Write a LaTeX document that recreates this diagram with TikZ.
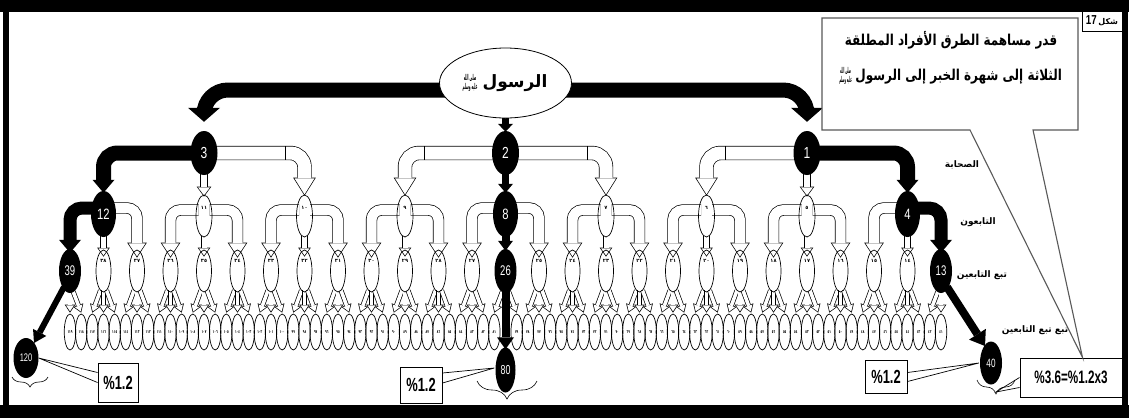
\documentclass[tikz,border=0pt]{standalone}
\usepackage{fontspec}
\usepackage{graphicx}
\setmainfont{Liberation Sans}
\newfontfamily\arabicfont[Script=Arabic]{DejaVu Sans}
\TeXXeTstate=1
\usetikzlibrary{shapes.geometric,arrows.meta,decorations.pathreplacing,calc,backgrounds}

% Arabic-Indic digits for the white nodes
\def\ardigits#1{{\arabicfont\ardig#1\relax}}
\def\ardig#1{\ifx#1\relax\else\ardigit{#1}\expandafter\ardig\fi}
\def\ardigit#1{\ifcase#1 ٠\or ١\or ٢\or ٣\or ٤\or ٥\or ٦\or ٧\or ٨\or ٩\fi}
\newcommand\arnum[1]{\edef\arnumtmp{#1}\expandafter\ardigits\expandafter{\arnumtmp}}
% condensed numerals
\newcommand\cnum[2][0.75]{\scalebox{#1}[1]{#2}}
% the salawat ligature, built as a compact stacked mark (never used inside \beginR ... \endR)
\newcommand\saw[2]{\raisebox{-0.15em}{\resizebox{#1}{#2}{\vbox{\baselineskip=1.1em\lineskiplimit=0pt\lineskip=1pt
  \hbox to 4.6em{\hss\beginR صلى الله\endR\hss}\hbox to 4.6em{\hss\beginR عليه وسلم\endR\hss}}}}}

% outlined (white) block arrow: path, shaft, head width, head length, corner radius
\newcommand\warrow[5]{%
  \pgfmathsetmacro\wa{#2+1.4}%
  \pgfmathsetmacro\wb{#3+2.6}%
  \pgfmathsetmacro\wc{#4+2.0}%
  \draw[line width=\wa pt, rounded corners=#5pt, -{Triangle[width=\wb pt,length=\wc pt,line width=0pt]}] #1;%
  \draw[white, line width=#2pt, rounded corners=#5pt, shorten >=1.3pt, -{Triangle[width=#3pt,length=#4pt,line width=0pt]}] #1;%
}
% solid black block arrow
\newcommand\barrow[5]{%
  \draw[line width=#2pt, rounded corners=#5pt, -{Triangle[width=#3pt,length=#4pt,line width=0pt]}] #1;%
}

\tikzset{
  bnode/.style={ellipse, fill=black, text=white, inner sep=0pt},
  wnode/.style={ellipse, draw, line width=0.7pt, inner sep=0pt},
  lblw/.style={font=\arabicfont\bfseries\fontsize{5}{5}\selectfont, inner sep=0pt},
  pbox/.style={draw, line width=1pt, fill=white, inner sep=0pt, font=\bfseries\fontsize{19}{19}\selectfont},
  side/.style={font=\arabicfont\bfseries\fontsize{9}{10}\selectfont, inner sep=0pt},
  tail/.style={line width=0.7pt},
  seam/.style={line width=0.7pt},
}

\begin{document}
\begin{tikzpicture}[x=1pt,y=-1pt]
\useasboundingbox (0,0) rectangle (1129,418);

% root
\node[ellipse, draw, line width=0.8pt, fill=white, minimum width=132pt, minimum height=70pt, inner sep=0pt,
      font=\arabicfont\bfseries\fontsize{17}{17}\selectfont] (root) at (505.5,83) {\saw{13pt}{15pt}\ \beginR الرسول\endR};

% level 1
\foreach \i in {0,1,2}{
  \pgfmathsetmacro\xx{204+301.5*\i}
  \pgfmathtruncatemacro\lab{3-\i}
  \node[bnode, minimum width=27pt, minimum height=44pt, font=\fontsize{16}{16}\selectfont] (a\i) at (\xx,153) {\cnum{\lab}};
}

% level 2
\foreach \j in {0,...,8}{
  \pgfmathsetmacro\xx{103.5+100.5*\j}
  \pgfmathtruncatemacro\lab{12-\j}
  \pgfmathtruncatemacro\isb{mod(\j,4)==0}
  \ifnum\isb=1
    \node[bnode, minimum width=25pt, minimum height=46pt, font=\fontsize{15}{15}\selectfont] (b\j) at (\xx,214) {\cnum{\lab}};
  \else
    \node[wnode, minimum width=16pt, minimum height=42pt, label={[lblw,yshift=8pt]center:\arnum{\lab}}] (b\j) at (\xx,216) {};
  \fi
}

% level 3
\foreach \k in {0,...,26}{
  \pgfmathsetmacro\xx{70+33.5*\k}
  \pgfmathtruncatemacro\lab{39-\k}
  \pgfmathtruncatemacro\isb{mod(\k,13)==0}
  \ifnum\isb=1
    \node[bnode, minimum width=22pt, minimum height=44pt, font=\fontsize{14}{14}\selectfont] (c\k) at (\xx,271) {\cnum[0.68]{\lab}};
  \else
    \node[wnode, minimum width=15pt, minimum height=42pt, label={[lblw,yshift=10pt]center:\arnum{\lab}}] (c\k) at (\xx,271) {};
  \fi
}

% level 4
\foreach \m in {1,...,79}{
  \pgfmathtruncatemacro\kk{floor(\m/3)}
  \pgfmathsetmacro\xx{70+33.5*\kk+(\m-3*\kk-1)*11.2}
  \pgfmathtruncatemacro\lab{120-\m}
  \ifnum\m=40 \else
    \node[wnode, minimum width=11.5pt, minimum height=36pt, font=\arabicfont\bfseries\fontsize{4.5}{4.5}\selectfont] (d\m) at (\xx,332) {\cnum[0.6]{\arnum{\lab}}};
  \fi
}
\node[bnode, minimum width=25pt, minimum height=40pt, font=\fontsize{11}{11}\selectfont] (d0) at (26,358) {\cnum[0.68]{120}};
\node[bnode, minimum width=20pt, minimum height=45pt, font=\fontsize{13}{13}\selectfont] (d40) at (505.5,370) {\cnum[0.68]{80}};
\node[bnode, minimum width=22pt, minimum height=43pt, font=\fontsize{12}{12}\selectfont] (d80) at (991,363) {\cnum[0.68]{40}};

\begin{pgfonlayer}{background}
  \fill[white] (0,0) rectangle (1129,418);
  % root to level 1
  \barrow{($(root.center)+(0,7)$) -- ($(a0.north |- root.center)+(0,7)$) -- ($(a0.north)+(0,-9)$)}{15}{32}{14}{24}
  \barrow{($(root.center)+(0,7)$) -- ($(a2.north |- root.center)+(0,7)$) -- ($(a2.north)+(0,-9)$)}{15}{32}{14}{24}
  \barrow{($(root.south)+(0,-3)$) -- ($(a1.north)+(0,1)$)}{7}{15}{8}{0}

  % level 1 to level 2
  \barrow{(a0.center) -- (b0.north |- a0.center) -- ($(b0.north)+(0,2)$)}{15}{22}{13}{14}
  \warrow{($(a0.south)+(0,-2)$) -- ($(b1.north)+(0,2)$)}{6}{12}{8}{0}
  \warrow{(a0.center) -- (b2.north |- a0.center) -- ($(b2.north)+(0,1)$)}{13}{20}{16}{14}
  \warrow{(a1.center) -- (b3.north |- a1.center) -- ($(b3.north)+(0,1)$)}{13}{20}{16}{14}
  \barrow{($(a1.south)+(0,-3)$) -- ($(b4.north)+(0,2)$)}{7}{15}{9}{0}
  \warrow{(a1.center) -- (b5.north |- a1.center) -- ($(b5.north)+(0,1)$)}{13}{20}{16}{14}
  \warrow{(a2.center) -- (b6.north |- a2.center) -- ($(b6.north)+(0,1)$)}{13}{20}{16}{14}
  \warrow{($(a2.south)+(0,-2)$) -- ($(b7.north)+(0,2)$)}{6}{12}{8}{0}
  \barrow{(a2.center) -- (b8.north |- a2.center) -- ($(b8.north)+(0,2)$)}{15}{22}{13}{14}
  % joints of the long white bars
  \draw[seam] ($(b2.north |- a0.center)+(-19,-7)$) -- ++(0,14);
  \draw[seam] ($(b3.north |- a1.center)+(19,-7)$) -- ++(0,14);
  \draw[seam] ($(b5.north |- a1.center)+(-19,-7)$) -- ++(0,14);
  \draw[seam] ($(b6.north |- a2.center)+(19,-7)$) -- ++(0,14);

  % level 2 to level 3
  \foreach \j in {0,...,8}{
    \pgfmathtruncatemacro\ca{3*\j}\pgfmathtruncatemacro\cb{3*\j+1}\pgfmathtruncatemacro\cc{3*\j+2}
    \pgfmathtruncatemacro\isb{mod(\j,4)==0}
    \pgfmathsetmacro\so{\isb==1 ? 2 : 5.5}
    \ifnum\j=0
      \barrow{($(b\j.center)+(-\so,-6)$) -- ($(c\ca.north |- b\j.center)+(0,-6)$) -- ($(c\ca.north)+(0,4)$)}{13}{22}{13}{12}
    \else
      \warrow{($(b\j.center)+(-\so,-6)$) -- ($(c\ca.north |- b\j.center)+(0,-6)$) -- ($(c\ca.north)+(0,8)$)}{10}{17}{13}{10}
    \fi
    \ifnum\j=4
      \barrow{($(b\j.south)+(0,-3)$) -- ($(c\cb.north)+(0,2)$)}{8}{15}{10}{0}
    \else
      \warrow{($(b\j.south)+(0,-1.5)$) -- ($(c\cb.north)+(0,7)$)}{5}{10}{7}{0}
    \fi
    \ifnum\j=8
      \barrow{($(b\j.center)+(\so,-6)$) -- ($(c\cc.north |- b\j.center)+(0,-6)$) -- ($(c\cc.north)+(0,4)$)}{13}{22}{13}{12}
    \else
      \warrow{($(b\j.center)+(\so,-6)$) -- ($(c\cc.north |- b\j.center)+(0,-6)$) -- ($(c\cc.north)+(0,8)$)}{10}{17}{13}{10}
    \fi
  }

  % level 3 to level 4
  \foreach \k in {0,...,26}{
    \pgfmathtruncatemacro\da{3*\k}\pgfmathtruncatemacro\db{3*\k+1}\pgfmathtruncatemacro\dc{3*\k+2}
    \ifnum\k=0 \else \warrow{($(c\k.south)+(-3,-2)$) -- ($(d\da.north)+(0,-1)$)}{3.5}{8}{6}{0}\fi
    \ifnum\k=13 \else \warrow{($(c\k.south)+(0,-2)$) -- ($(d\db.north)+(0,-1)$)}{3.5}{8}{6}{0}\fi
    \ifnum\k=26 \else \warrow{($(c\k.south)+(3,-2)$) -- ($(d\dc.north)+(0,-1)$)}{3.5}{8}{6}{0}\fi
  }
  \barrow{($(c0.center)+(-6,16)$) -- ($(d0.center)+(8,-15)$)}{6}{15}{12}{0}
  \barrow{($(c13.center)+(0,16)$) -- ($(d40.north)+(0,2)$)}{8}{17}{12}{0}
  \barrow{($(c26.center)+(6,16)$) -- ($(d80.center)+(-6,-17)$)}{8}{20}{14}{0}
\end{pgfonlayer}

% frame
\fill (0,0) rectangle (1129,12);
\fill (0,405) rectangle (1129,418);
\fill (3,0) rectangle (9,418);
\fill (1122,0) rectangle (1128,418);

% generation labels
\node[side] (sahaba) at (962,165) {\beginR الصحابة\endR};
\node[side] (tabiun) at (978,222) {\beginR التابعون\endR};
\node[side] (tabi2) at (982,275) {\beginR تبع التابعين\endR};
\node[side] (tabi3) at (1035,330) {\beginR تبع تبع التابعين\endR};

% percentage boxes
\node[pbox, minimum width=40pt, minimum height=39pt] (p1) at (118,382.5) {\cnum[0.68]{\%1.2}};
\node[pbox, minimum width=42pt, minimum height=36pt] (p2) at (421,385) {\cnum[0.68]{\%1.2}};
\node[pbox, minimum width=42pt, minimum height=33pt] (p3) at (886,376.5) {\cnum[0.68]{\%1.2}};
\node[pbox, minimum width=102pt, minimum height=39pt, font=\bfseries\fontsize{18}{18}\selectfont] (p4) at (1071,377.5) {\cnum[0.65]{\%3.6=\%1.2x3}};

% braces
\draw[line width=0.6pt, decorate, decoration={brace, mirror, amplitude=10pt}] (12,377) -- (48,377);
\draw[line width=0.6pt, decorate, decoration={brace, mirror, amplitude=18pt}] (477,381) -- (537,381);
\draw[line width=0.6pt, decorate, decoration={brace, mirror, amplitude=14pt}] (977,380) -- (1015,380);
\coordinate (br40) at (996,392);

% callout tails
\draw[tail] ($(p1.west)+(0,-10)$) -- (d0.east) -- ($(p1.west)+(0,0)$);
\draw[tail] ($(p2.east)+(0,-12)$) -- ($(d40.west)+(-1,-2)$) -- ($(p2.east)+(0,-2)$);
\draw[tail] ($(p3.east)+(0,-4)$) -- ($(d80.west)+(-1,0)$) -- ($(p3.east)+(0,5)$);
\draw[tail] ($(p4.west)+(0,0)$) -- (br40) -- ($(p4.west)+(0,10)$);

% heading callout
\coordinate (tipT) at ($(p4.north west)+(63,0)$);
\draw[fill=white, draw=black!65, line width=1.1pt] (822,18) -- (1078,18) -- (1078,130) -- (1033,130) -- (tipT) -- (970,130) -- (822,130) -- cycle;
\node[font=\arabicfont\bfseries\fontsize{15}{16}\selectfont] (title1) at (951,40) {\cnum[0.8]{\beginR قدر مساهمة الطرق الأفراد المطلقة\endR}};
\node[font=\arabicfont\bfseries\fontsize{15}{16}\selectfont] (title2) at (951,76) {\cnum[0.8]{\saw{14pt}{15pt}\ \beginR الثلاثة إلى شهرة الخبر إلى الرسول\endR}};

% figure number
\node[draw, line width=1pt, fill=white, minimum width=40pt, minimum height=20pt, inner sep=0pt] (fig) at (1102,21)
  {{\bfseries\fontsize{13}{13}\selectfont\cnum{17}}\,{\arabicfont\bfseries\fontsize{8}{8}\selectfont\beginR شكل\endR}};
\end{tikzpicture}
\end{document}
